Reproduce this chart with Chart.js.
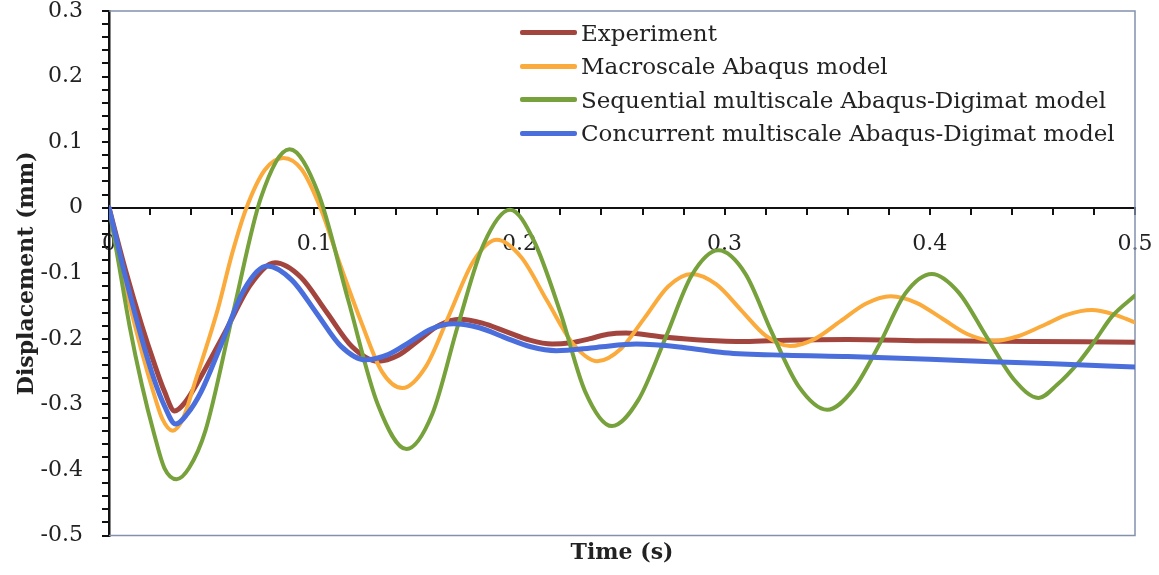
<!DOCTYPE html>
<html>
<head>
<meta charset="utf-8">
<script src="https://cdn.jsdelivr.net/npm/chart.js@4.4.1/dist/chart.umd.min.js"></script>
<style>
  html, body { margin: 0; padding: 0; background: #fff; }
  #wrap { position: relative; width: 1159px; height: 575px; }
  #legend { position: absolute; left: 520px; top: 16px; font-family: 'DejaVu Serif', serif; font-size: 23px; color: #222; }
  .row { display: flex; align-items: center; height: 33.5px; white-space: nowrap; }
  .swatch { width: 57px; height: 5px; border-radius: 2px; margin-right: 4px; }
</style>
</head>
<body>
<div id="wrap">
  <canvas id="chart" width="1159" height="575"></canvas>
  <div id="legend"></div>
</div>
<script>
// values (time in s, displacement in mm)
const expT = [0, 0.008, 0.016, 0.022, 0.027, 0.032, 0.037, 0.044, 0.0565, 0.069, 0.081, 0.0935, 0.106, 0.1185, 0.131, 0.141, 0.151, 0.161, 0.171, 0.182, 0.1935, 0.205, 0.216, 0.225, 0.234, 0.243, 0.252, 0.27, 0.29, 0.31, 0.33, 0.36, 0.40, 0.45, 0.5];
const expV = [0, -0.095, -0.18, -0.237, -0.28, -0.31, -0.297, -0.262, -0.19, -0.117, -0.084, -0.106, -0.159, -0.212, -0.234, -0.225, -0.202, -0.179, -0.170, -0.176, -0.189, -0.202, -0.208, -0.206, -0.200, -0.193, -0.191, -0.197, -0.202, -0.204, -0.202, -0.201, -0.203, -0.204, -0.205];

const macroT = [0, 0.008, 0.016, 0.022, 0.026, 0.031, 0.036, 0.042, 0.053, 0.060, 0.067, 0.076, 0.085, 0.094, 0.103, 0.113, 0.123, 0.133, 0.143, 0.1545, 0.166, 0.1775, 0.189, 0.201, 0.2135, 0.226, 0.238, 0.2495, 0.261, 0.2725, 0.284, 0.296, 0.308, 0.320, 0.332, 0.344, 0.3565, 0.369, 0.381, 0.3935, 0.406, 0.4185, 0.431, 0.443, 0.455, 0.467, 0.479, 0.49, 0.5];
const macroV = [0, -0.12, -0.22, -0.285, -0.322, -0.34, -0.322, -0.265, -0.155, -0.07, 0, 0.058, 0.076, 0.058, 0, -0.09, -0.175, -0.25, -0.275, -0.242, -0.162, -0.082, -0.049, -0.076, -0.142, -0.207, -0.234, -0.215, -0.168, -0.12, -0.101, -0.117, -0.156, -0.195, -0.211, -0.2, -0.173, -0.146, -0.135, -0.145, -0.169, -0.193, -0.203, -0.196, -0.18, -0.163, -0.156, -0.163, -0.175];

const seqT = [0, 0.005, 0.010, 0.016, 0.022, 0.027, 0.033, 0.039, 0.047, 0.0605, 0.074, 0.088, 0.102, 0.1165, 0.131, 0.145, 0.1575, 0.170, 0.1825, 0.1955, 0.207, 0.220, 0.232, 0.245, 0.258, 0.271, 0.284, 0.297, 0.310, 0.323, 0.336, 0.350, 0.3625, 0.3755, 0.388, 0.401, 0.414, 0.4275, 0.441, 0.453, 0.462, 0.473, 0.48, 0.489, 0.5];
const seqV = [0, -0.09, -0.18, -0.27, -0.345, -0.397, -0.414, -0.397, -0.34, -0.16, 0.015, 0.089, 0.022, -0.14, -0.30, -0.368, -0.315, -0.18, -0.056, -0.003, -0.05, -0.16, -0.28, -0.333, -0.293, -0.2, -0.103, -0.065, -0.1, -0.19, -0.272, -0.308, -0.278, -0.208, -0.131, -0.101, -0.129, -0.196, -0.262, -0.29, -0.27, -0.234, -0.205, -0.165, -0.134];

const concT = [0, 0.008, 0.016, 0.022, 0.027, 0.0325, 0.038, 0.045, 0.0545, 0.066, 0.077, 0.089, 0.101, 0.113, 0.125, 0.136, 0.1465, 0.157, 0.168, 0.1805, 0.193, 0.2055, 0.218, 0.2375, 0.257, 0.28, 0.30, 0.33, 0.36, 0.40, 0.43, 0.46, 0.5];
const concV = [0, -0.105, -0.20, -0.262, -0.302, -0.33, -0.315, -0.28, -0.21, -0.124, -0.089, -0.11, -0.16, -0.211, -0.232, -0.224, -0.205, -0.185, -0.177, -0.183, -0.198, -0.212, -0.218, -0.213, -0.208, -0.213, -0.221, -0.225, -0.227, -0.231, -0.235, -0.238, -0.243];

const seriesNames = ['Experiment', 'Macroscale Abaqus model', 'Sequential multiscale Abaqus-Digimat model', 'Concurrent multiscale Abaqus-Digimat model'];
const seriesColors = ['#A3453F', '#FBAA3C', '#76A13B', '#4A6FDC'];
const seriesWidths = [5, 4, 4, 5];

const FONT = "'DejaVu Serif', serif";

function pts(ts, vs) {
    return ts.map((t, i) => ({ x: t, y: vs[i] }));
}

const allT = [expT, macroT, seqT, concT];
const allV = [expV, macroV, seqV, concV];

const datasets = seriesNames.map((name, i) => ({
    label: name,
    data: pts(allT[i], allV[i]),
    borderColor: seriesColors[i],
    backgroundColor: seriesColors[i],
    borderWidth: seriesWidths[i],
    pointRadius: 0,
    showLine: true,
    fill: false,
    cubicInterpolationMode: 'monotone',
    borderCapStyle: 'round',
    borderJoinStyle: 'round',
    order: 4 - i
}));

// thin frame round the plot area (top, right, bottom)
const plotFrame = {
    id: 'plotFrame',
    beforeDatasetsDraw(chart) {
        const { ctx, chartArea: a } = chart;
        ctx.save();
        ctx.strokeStyle = '#8391AD';
        ctx.lineWidth = 1.5;
        ctx.beginPath();
        ctx.moveTo(a.left, a.top);
        ctx.lineTo(a.right, a.top);
        ctx.lineTo(a.right, a.bottom);
        ctx.lineTo(a.left, a.bottom);
        ctx.stroke();
        ctx.restore();
    }
};

const majorLabel = v => {
    const k = Math.round(v * 50);
    return k % 5 === 0 ? String(Math.round(v * 10) / 10) : '';
};

const chart = new Chart(document.getElementById('chart'), {
    type: 'scatter',
    data: { datasets },
    options: {
        responsive: false,
        animation: false,
        devicePixelRatio: 1,
        layout: { padding: { top: 0, right: 24, left: 0, bottom: 0 } },
        plugins: {
            legend: { display: false },
            tooltip: { enabled: false },
            title: {
                display: true,
                position: 'bottom',
                fullSize: false,
                text: 'Time (s)',
                color: '#222',
                font: { family: FONT, size: 22, weight: 'bold' },
                padding: { top: 4, bottom: 9 }
            }
        },
        scales: {
            x: {
                type: 'linear',
                position: { y: 0 },
                min: 0, max: 0.5,
                ticks: {
                    stepSize: 0.02, autoSkip: false, maxRotation: 0,
                    padding: 20, color: '#222',
                    font: { family: FONT, size: 22, lineHeight: 1 },
                    callback: majorLabel
                },
                grid: { drawOnChartArea: false, drawTicks: true, tickLength: 6, color: '#111', lineWidth: 2 },
                border: { color: '#111', width: 2 },
                afterFit(scale) { scale.paddingLeft = 0; scale.paddingRight = 0; }
            },
            y: {
                min: -0.5, max: 0.3,
                ticks: {
                    stepSize: 0.02, autoSkip: false,
                    padding: 19, color: '#222',
                    font: { family: FONT, size: 22, lineHeight: 1 },
                    callback: majorLabel
                },
                grid: { drawOnChartArea: false, drawTicks: true, tickLength: 7, color: '#111', lineWidth: 2 },
                border: { color: '#111', width: 2.5 },
                title: {
                    display: true,
                    text: 'Displacement (mm)',
                    color: '#222',
                    font: { family: FONT, size: 22, weight: 'bold' },
                    padding: { top: 14, bottom: 0 }
                },
                afterFit(scale) {
                    scale.width = 109;
                    scale.paddingTop = 11;
                    scale.paddingBottom = 0;
                }
            }
        }
    },
    plugins: [plotFrame]
});

// legend built from the chart's datasets
const legendEl = document.getElementById('legend');
chart.data.datasets.forEach(ds => {
    const row = document.createElement('div');
    row.className = 'row';
    row.innerHTML = `<span class="swatch" style="background:${ds.borderColor}"></span><span>${ds.label}</span>`;
    legendEl.appendChild(row);
});
</script>
</body>
</html>
